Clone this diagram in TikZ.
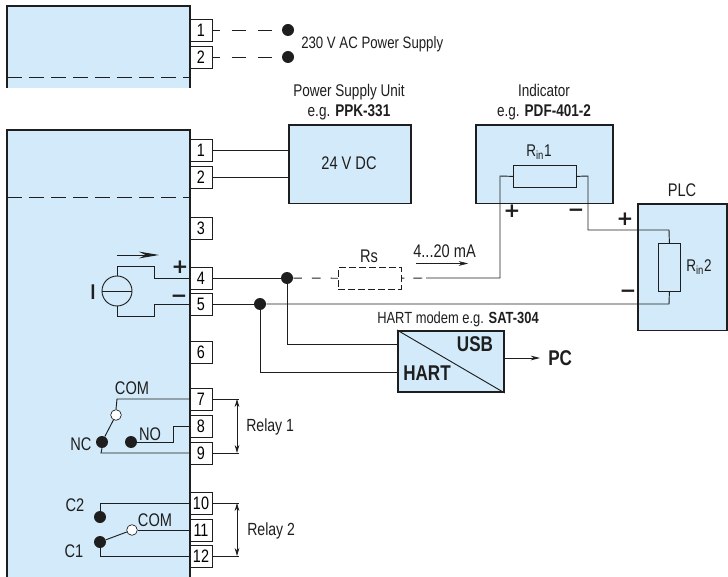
\documentclass[tikz,border=0pt]{standalone}
\usepackage{fontspec}
\setmainfont[FakeStretch=0.8]{Liberation Sans}
\newfontfamily\signfont{DejaVu Sans}
\usetikzlibrary{arrows.meta}
\definecolor{devblue}{RGB}{210,234,249}
\definecolor{inkgray}{RGB}{30,30,30}
\tikzstyle{terminal}=[draw=inkgray,fill=white,line width=0.6pt,minimum width=16.5pt,minimum height=16.5pt,inner sep=0pt,font=\fontsize{13.5}{14}\selectfont]
\tikzstyle{unit}=[draw=inkgray,fill=devblue,line width=1.2pt,inner sep=0pt,anchor=north west]
\tikzstyle{res}=[draw=inkgray,line width=0.6pt,inner sep=0pt,anchor=north west]
\tikzstyle{dotb}=[circle,fill=inkgray,minimum size=9pt,inner sep=0pt]
\tikzstyle{dotw}=[circle,draw=inkgray,fill=white,line width=0.5pt,minimum size=8pt,inner sep=0pt]
\tikzstyle{wire}=[draw=inkgray,line width=0.7pt]
\tikzstyle{dashwire}=[wire,dash pattern=on 11pt off 8.5pt,dash phase=5pt]
\tikzstyle{sep}=[draw=inkgray,line width=0.7pt,dash pattern=on 11pt off 5.5pt]
\tikzstyle{lbl}=[inner sep=0pt,text=inkgray,font=\fontsize{12.7}{15}\selectfont,align=center]
\tikzstyle{lblb}=[inner sep=0pt,text=inkgray,font=\fontsize{13.7}{15}\selectfont,align=center]
\tikzstyle{bigl}=[inner sep=0pt,text=inkgray,font=\fontsize{16}{16}\selectfont\bfseries]
\tikzstyle{sign}=[inner sep=0pt,text=inkgray,font=\signfont\fontsize{15}{15}\selectfont\bfseries]
\tikzstyle{slim}=[-{Stealth[length=7pt,width=3.5pt]}]
\tikzstyle{twotip}=[{Stealth[length=6pt,width=3.5pt]}-{Stealth[length=6pt,width=3.5pt]}]

\begin{document}
\begin{tikzpicture}[x=0.75pt,y=-0.75pt]
    \useasboundingbox (0,0) rectangle (728,577);
    % housing, upper part
    \fill[devblue] (7,6) rectangle (190,88);
    \draw[inkgray,line width=1.2pt] (7,88) -- (7,6) -- (190,6) -- (190,88);
    \draw[sep] (7,77) -- (190,77);
    % housing, lower part
    \fill[devblue] (7,130) rectangle (190,577);
    \draw[inkgray,line width=1.2pt] (7,577) -- (7,130) -- (190,130) -- (190,577);
    \draw[sep] (7,197) -- (190,197);

    % units
    \node[unit,minimum width=91.5pt,minimum height=59pt] (psu) at (288,124) {};
    \node[lblb] (psulbl) at (349,163) {24 V DC};
    \node[unit,minimum width=103pt,minimum height=59pt] (ind) at (475,124) {};
    \node[unit,minimum width=67pt,minimum height=95pt] (plc) at (637,203) {};
    \node[unit,minimum width=79.5pt,minimum height=46pt] (modem) at (397,330) {};
    \draw[wire] (modem.north west) -- (modem.south east);

    % terminals
    \foreach \name/\y/\txt in {a1/30/1,a2/57/2,t1/150/1,t2/177/2,t3/228/3,t4/278/4,t5/304/5,t6/352/6,t7/399/7,t8/426/8,t9/453/9,t10/503/10,t11/530/11,t12/556/12}
    \node[terminal] (\name) at (201,\y) {\txt};

    % dots
    \node[dotb] (da1) at (288,30) {};
    \node[dotb] (da2) at (288,57) {};
    \node[dotb] (d4) at (287,278) {};
    \node[dotb] (d5) at (260,304) {};
    \node[dotb] (nc) at (102,442) {};
    \node[dotb] (no) at (131,442) {};
    \node[dotw] (com1) at (116,415) {};
    \node[dotb] (c2) at (100,517) {};
    \node[dotb] (c1) at (100,542) {};
    \node[dotw] (com2) at (132,530) {};

    % resistors
    \node[res,minimum width=47pt,minimum height=16.5pt] (rin1) at (513,165) {};
    \node[res,minimum width=16.5pt,minimum height=36pt] (rin2) at (658,243) {};
    \node[res,dash pattern=on 5pt off 2.5pt,minimum width=47pt,minimum height=16.5pt] (rs) at (338,267) {};

    % supply wiring
    \foreach \from/\to in {a1/da1,a2/da2}
    \draw[dashwire] (\from) -- (\to);
    \foreach \from/\to in {t1/psu,t2/psu}
    \draw[wire] (\from) -- (\from -| \to.west);

    % loop
    \coordinate (solid) at (426,278);
    \coordinate (top2) at (669,230);
    \draw[wire] (t4) -- (d4);
    \draw[wire,dash pattern=on 6.5pt off 7.5pt] (d4) -- (rs);
    \draw[wire,dash pattern=on 2.25pt off 6.75pt on 6.75pt off 3pt] (rs) -- (solid);
    \draw[wire] (solid) -| (500,176) -- (rin1.west);
    \draw[wire] (rin1.east) -- (588,176) |- (top2) -- (rin2.north);
    \draw[wire] (t5) -- (d5);
    \draw[wire] (d5) -- (669,304) -- (rin2.south);
    \draw[wire] (d4) |- (modem.west |- 0,344);
    \draw[wire] (d5) |- (modem.west |- 0,372);
    \coordinate (pcend) at (540,358);
    \draw[wire,slim] (modem.east |- pcend) -- (pcend);

    % source inside the housing
    \node[circle,draw=inkgray,line width=0.7pt,minimum size=22.5pt,inner sep=0pt] (src) at (117,291) {};
    \draw[wire] (src.west) -- (src.east);
    \draw[wire] (src.north) -- (117,266.5) -- (154,266.5) -- (154,278) -- (t4.west);
    \draw[wire] (src.south) -- (117,316) -- (154,316) -- (154,304) -- (t5.west);
    \coordinate (cura) at (117,255);
    \coordinate (curb) at (159,255);
    \draw[wire,-{Stealth[length=15pt,width=5pt]}] (cura) -- (curb);

    % relay 1
    \draw[wire] (t7.west) -- (117,399) -- (com1.north);
    \draw[wire] (com1) -- (nc);
    \draw[wire] (nc.south) -- (101,453) -- (t9.west);
    \draw[wire] (no) -- (173,442) -- (173,426) -- (t8.west);
    % relay 2
    \draw[wire] (c2.north) -- (100,503) -- (t10.west);
    \draw[wire] (com2) -- (t11.west);
    \draw[wire] (com2) -- (c1);
    \draw[wire] (c1.south) -- (100,556) -- (t12.west);

    % relay brackets
    \foreach \from in {t7,t9,t10,t12}
    \draw[wire] (\from.east) -- ++(27,0);
    \coordinate (r1a) at (237,399);
    \coordinate (r1b) at (237,453);
    \coordinate (r2a) at (237,503);
    \coordinate (r2b) at (237,556);
    \foreach \from/\to in {r1a/r1b,r2a/r2b}
    \draw[wire,twotip] (\from) -- (\to);

    % current in the loop
    \coordinate (ma) at (416,263.5);
    \coordinate (mb) at (468,263.5);
    \draw[wire,slim,line width=0.4pt] (ma) -- (mb);

    % labels
    \node[lbl,anchor=west,font=\fontsize{12.4}{14}\selectfont] (acl) at (301,44) {230 V AC Power Supply};
    \node[lbl] (psut) at (349,102) {Power Supply Unit\\e.g. \textbf{PPK-331}};
    \node[lbl] (indt) at (544,102) {Indicator\\e.g. \textbf{PDF-401-2}};
    \node[lblb] (plct) at (682,190) {PLC};
    \node[lbl] (rin1t) at (539,152) {R\textsubscript{in}1};
    \node[lbl,anchor=west] (rin2t) at (686,267) {R\textsubscript{in}2};
    \node[lblb] (rst) at (369,256) {Rs};
    \node[lblb,anchor=west] (mat) at (413,251) {4...20 mA};
    \node[lbl,font=\fontsize{12.1}{14}\selectfont] (modemt) at (458,319) {HART modem e.g. \textbf{SAT-304}};
    \node[bigl] (usbt) at (475,344) {USB};
    \node[bigl] (hartt) at (427,373) {HART};
    \node[bigl,anchor=west] (pct) at (548,358) {PC};
    \node[lblb] (comat) at (132,388) {COM};
    \node[lblb] (nct) at (81,444) {NC};
    \node[lblb] (not) at (150,434) {NO};
    \node[lblb] (c2t) at (75,505) {C2};
    \node[lblb] (c1t) at (74,551) {C1};
    \node[lblb] (combt) at (155,520) {COM};
    \node[lblb,anchor=west,font=\fontsize{13.2}{15}\selectfont] (r1t) at (246,427) {Relay 1};
    \node[lblb,anchor=west,font=\fontsize{13.2}{15}\selectfont] (r2t) at (247,531) {Relay 2};
    \node[bigl] (isrc) at (93,292) {I};
    \node[sign] (pa) at (180,267) {+};
    \node[sign] (ma1) at (179,299) {−};
    \node[sign] (pb) at (512,211) {+};
    \node[sign] (mb1) at (576,213) {−};
    \node[sign] (pc2) at (625,219) {+};
    \node[sign] (mc2) at (628,294) {−};
\end{tikzpicture}
\end{document}
